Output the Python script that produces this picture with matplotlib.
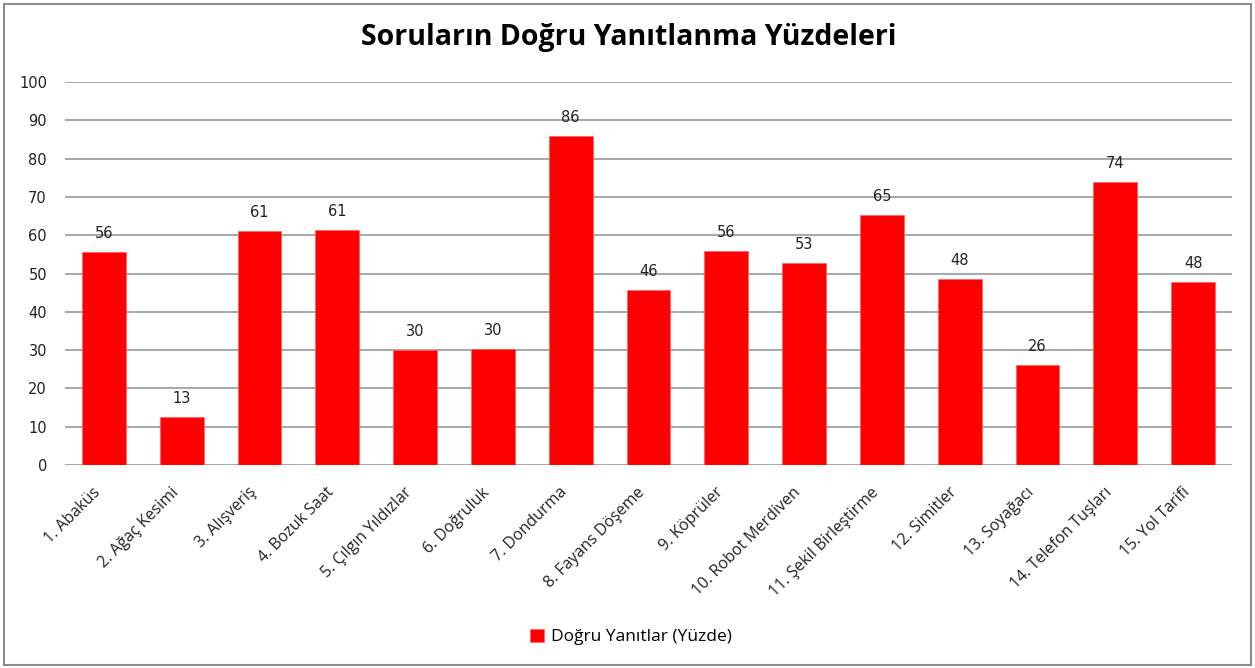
import matplotlib
matplotlib.use("Agg")
import matplotlib.pyplot as plt
from matplotlib.patches import Rectangle

categories = ["1. Abaküs", "2. Ağaç Kesimi", "3. Alışveriş", "4. Bozuk Saat",
              "5. Çılgın Yıldızlar", "6. Doğruluk", "7. Dondurma", "8. Fayans Döşeme",
              "9. Köprüler", "10. Robot Merdiven", "11. Şekil Birleştirme",
              "12. Simitler", "13. Soyağacı", "14. Telefon Tuşları", "15. Yol Tarifi"]
values = [55.7, 12.6, 61.1, 61.4, 29.9, 30.3, 86.0, 45.6, 55.8, 52.8, 65.3, 48.5, 26.1, 73.8, 47.8]
value_labels = ["56", "13", "61", "61", "30", "30", "86", "46", "56", "53", "65", "48", "26", "74", "48"]
yticks = [0, 10, 20, 30, 40, 50, 60, 70, 80, 90, 100]
title = "Soruların Doğru Yanıtlanma Yüzdeleri"
series_name = "Doğru Yanıtlar (Yüzde)"

W, H = 1255, 668
fig = plt.figure(figsize=(W / 100, H / 100), dpi=100)
fig.patch.set_facecolor("white")
fig.patches.append(Rectangle((4 / W, 3 / H), (W - 8) / W, (H - 7) / H, transform=fig.transFigure,
                             fill=False, edgecolor="#8c8c8c", linewidth=1.5))

ax = fig.add_axes([65 / W, (H - 465) / H, (1232 - 65) / W, (465 - 82) / H])
x = list(range(len(categories)))
bars = ax.bar(x, values, width=0.565, color="#ff0000", edgecolor="#ff6060", linewidth=0.5, zorder=3,
              label=series_name)
ax.set_xlim(-0.5, len(categories) - 0.5)
ax.set_ylim(0, 100)
ax.set_yticks(yticks)
ax.set_yticklabels([str(t) for t in yticks], fontsize=10.5, color="#222222", family="DejaVu Sans")
ax.yaxis.grid(True, color="#a0a0a0", linewidth=1.3, zorder=0)
ax.set_axisbelow(True)
for s in ax.spines.values():
    s.set_visible(False)
ax.tick_params(axis="y", length=0, pad=13)
ax.tick_params(axis="x", length=0, pad=14)
ax.set_xticks(x)
ax.set_xticklabels(categories, rotation=45, ha="right", va="top",
                   fontsize=11.5, color="#222222", family="Open Sans")
for xi, v, lab in zip(x, values, value_labels):
    ax.annotate(lab, (xi, v), xytext=(0, 8), textcoords="offset points", ha="center", va="bottom",
                fontsize=10.5, color="#222222", family="DejaVu Sans")

fig.text(629 / W, 1 - 38 / H, title, ha="center", va="center", fontsize=20.5, fontweight="bold",
         family="Open Sans", color="black")

leg = fig.legend(handles=[bars], labels=[series_name], loc="center", bbox_to_anchor=(631 / W, 1 - 637 / H),
                 frameon=False, handlelength=0.8, handleheight=0.8, handletextpad=0.4,
                 prop={"family": "Open Sans", "size": 12.5})

fig.savefig("out.png", dpi=100)
